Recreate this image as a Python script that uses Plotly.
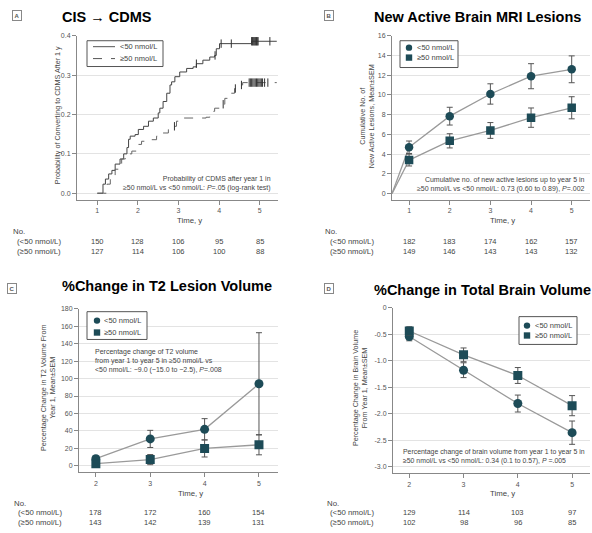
import numpy as np
import plotly.graph_objects as go

# ---------------- DATA ----------------
# Panel A: Kaplan-Meier cumulative probability of CDMS (step times / values)
km_lt50_t = [1.00, 1.14, 1.20, 1.28, 1.36, 1.44, 1.56, 1.65, 1.73, 1.77, 1.81, 1.93, 2.01, 2.14, 2.26,
             2.38, 2.50, 2.54, 2.62, 2.71, 2.79, 2.83, 2.91, 3.03, 3.20, 3.36, 3.44, 3.60, 3.77,
             3.89, 3.93, 4.01, 4.80]
km_lt50_p = [0.000, 0.023, 0.036, 0.049, 0.058, 0.074, 0.087, 0.100, 0.116, 0.137, 0.145, 0.149, 0.162,
             0.170, 0.183, 0.191, 0.204, 0.216, 0.233, 0.254, 0.275, 0.283, 0.296, 0.308, 0.317, 0.321,
             0.329, 0.338, 0.346, 0.350, 0.367, 0.380, 0.386]
km_ge50_t = [1.00, 1.16, 1.24, 1.32, 1.44, 1.52, 1.60, 1.69, 1.85, 1.97, 2.09, 2.30, 2.46, 2.58, 2.75,
             2.87, 2.95, 3.03, 3.68, 3.77, 3.89, 4.01, 4.14, 4.26, 4.38, 4.50, 4.58]
km_ge50_p = [0.000, 0.000, 0.023, 0.044, 0.061, 0.074, 0.087, 0.100, 0.107, 0.124, 0.132, 0.136, 0.145,
             0.153, 0.162, 0.170, 0.183, 0.191, 0.193, 0.208, 0.216, 0.226, 0.241, 0.254, 0.266, 0.275, 0.281]
km_end_time = 5.42
cens_lt50_t = [3.44, 3.90, 4.05, 4.30, 4.80, 4.82, 4.84, 4.86, 4.88, 4.90, 4.92, 4.94, 4.96, 5.25]
cens_ge50_t = [2.90, 4.10, 4.40, 4.55, 4.74, 4.77, 4.80, 4.83, 4.86, 4.89, 4.92, 4.95, 4.98, 5.01, 5.04, 5.07, 5.12, 5.20]
years_A = [1, 2, 3, 4, 5]
A_tickvals = [0, 0.1, 0.2, 0.3, 0.4]
A_ticktext = ["0.0", "0.1", "0.2", "0.3", "0.4"]
atrisk_A_lt50 = [150, 128, 106, 95, 85]
atrisk_A_ge50 = [127, 114, 106, 100, 88]

# Panel B: cumulative new active lesions (mean, SEM)
years_B = [1, 2, 3, 4, 5]
B_start_value = 0
B_lt50_mean = [4.7, 7.85, 10.1, 11.9, 12.6]
B_lt50_sem = [0.63, 0.90, 1.03, 1.27, 1.36]
B_ge50_mean = [3.4, 5.35, 6.4, 7.7, 8.7]
B_ge50_sem = [0.60, 0.72, 0.80, 0.98, 1.12]
atrisk_B_lt50 = [182, 183, 174, 162, 157]
atrisk_B_ge50 = [149, 146, 143, 143, 132]

# Panel C: % change in T2 lesion volume (mean, SEM)
years_CD = [2, 3, 4, 5]
C_lt50_mean = [8.3, 30.9, 41.9, 94.0]
C_lt50_sem = [3.0, 9.8, 12.2, 58.5]
C_ge50_mean = [2.6, 7.2, 20.0, 24.2]
C_ge50_sem = [3.0, 5.8, 9.8, 11.5]
atrisk_C_lt50 = [178, 172, 160, 154]
atrisk_C_ge50 = [143, 142, 139, 131]

# Panel D: % change in total brain volume (mean, SEM)
D_lt50_mean = [-0.545, -1.18, -1.81, -2.36]
D_lt50_sem = [0.08, 0.14, 0.16, 0.22]
D_ge50_mean = [-0.44, -0.89, -1.28, -1.85]
D_ge50_sem = [0.08, 0.13, 0.15, 0.19]
atrisk_D_lt50 = [129, 114, 103, 97]
atrisk_D_ge50 = [102, 98, 96, 85]
D_tickvals = [0, -0.5, -1.0, -1.5, -2.0, -2.5, -3.0]
D_ticktext = ["0", "-0.5", "-1.0", "-1.5", "-2.0", "-2.5", "-3.0"]

series_names = ["&lt;50 nmol/L", "≥50 nmol/L"]

# ---------------- STYLE ----------------
W, H = 592, 533
FONT = "Liberation Sans, Arial, sans-serif"
TEAL = "#1d4b57"
LINE_GRAY = "#9a9a9a"
TXT = "#444444"


def px(x):
    return x / W


def py(y):
    return 1 - y / H


fig = go.Figure()

# ---------- Panel A ----------
def km_xy(t, p):
    return list(t) + [km_end_time], list(p) + [p[-1]]


def step_at(t, p, c):
    idx = np.searchsorted(np.array(t), np.array(c), side="right") - 1
    return [p[i] for i in idx]


xa, ya = km_xy(km_lt50_t, km_lt50_p)
fig.add_trace(go.Scatter(x=xa, y=ya, mode="lines", line=dict(color="#444444", width=1, shape="hv"),
                         name=series_names[0], showlegend=False, xaxis="x", yaxis="y"))
xb, yb = km_xy(km_ge50_t, km_ge50_p)
fig.add_trace(go.Scatter(x=xb, y=yb, mode="lines", line=dict(color="#666666", width=1, shape="hv", dash="dash"),
                         name=series_names[1], showlegend=False, xaxis="x", yaxis="y"))
fig.add_trace(go.Scatter(x=cens_lt50_t, y=step_at(km_lt50_t, km_lt50_p, cens_lt50_t), mode="markers",
                         marker=dict(symbol="line-ns", size=6, line=dict(color="#333333", width=1)),
                         showlegend=False, xaxis="x", yaxis="y"))
fig.add_trace(go.Scatter(x=cens_ge50_t, y=step_at(km_ge50_t, km_ge50_p, cens_ge50_t), mode="markers",
                         marker=dict(symbol="line-ns", size=6, line=dict(color="#333333", width=1)),
                         showlegend=False, xaxis="x", yaxis="y"))


def mean_panel(xax, yax, years, m1, s1, m2, s2, msize):
    for m, s, sym, name in [(m1, s1, "circle", series_names[0]), (m2, s2, "square", series_names[1])]:
        fig.add_trace(go.Scatter(x=years, y=m, mode="lines+markers", name=name,
                                 line=dict(color=LINE_GRAY, width=1.3),
                                 marker=dict(symbol=sym, size=msize, color=TEAL),
                                 error_y=dict(type="data", array=s, visible=True, color="#555555",
                                              thickness=1, width=3),
                                 showlegend=False, xaxis=xax, yaxis=yax))


# ---------- Panel B ----------
B_x0 = 0.58
for m in (B_lt50_mean, B_ge50_mean):
    fig.add_trace(go.Scatter(x=[B_x0, years_B[0]], y=[B_start_value, m[0]], mode="lines",
                             line=dict(color=LINE_GRAY, width=1.3), showlegend=False,
                             xaxis="x2", yaxis="y2"))
mean_panel("x2", "y2", years_B, B_lt50_mean, B_lt50_sem, B_ge50_mean, B_ge50_sem, 8.5)
mean_panel("x3", "y3", years_CD, C_lt50_mean, C_lt50_sem, C_ge50_mean, C_ge50_sem, 9)
mean_panel("x4", "y4", years_CD, D_lt50_mean, D_lt50_sem, D_ge50_mean, D_ge50_sem, 9)

# ---------------- AXES ----------------
tickfont = dict(family=FONT, size=7, color="#555555")


def xax(domain, rng, tickvals, anchor):
    return dict(domain=domain, range=rng, tickvals=tickvals, ticks="outside", ticklen=4,
                tickcolor="#888888", showline=True, linecolor="#888888", linewidth=1,
                showgrid=False, zeroline=False, tickfont=tickfont, anchor=anchor, fixedrange=True)


def yax(domain, rng, tickvals, anchor, ticktext=None):
    d = dict(domain=domain, range=rng, tickvals=tickvals, ticks="outside", ticklen=4,
             tickcolor="#888888", showline=True, linecolor="#888888", linewidth=1,
             showgrid=True, gridcolor="#e3e3e3", gridwidth=1, zeroline=False,
             tickfont=tickfont, anchor=anchor, fixedrange=True)
    if ticktext is not None:
        d["ticktext"] = ticktext
    return d


fig.update_layout(
    width=W, height=H, margin=dict(l=0, r=0, t=0, b=0),
    paper_bgcolor="white", plot_bgcolor="white", showlegend=False,
    xaxis=xax([px(77), px(278)], [0.5, 5.45], years_A, "y"),
    yaxis=yax([py(197), py(32)], [-0.016, 0.4], A_tickvals, "x", A_ticktext),
    xaxis2=xax([px(392), px(590)], [B_x0, 5.45], years_B, "y2"),
    yaxis2=yax([py(197), py(32)], [-0.6, 16], list(range(0, 17, 2)), "x2"),
    xaxis3=xax([px(79), px(278)], [1.69, 5.35], years_CD, "y3"),
    yaxis3=yax([py(472), py(307)], [-7.5, 180], list(range(0, 181, 20)), "x3"),
    xaxis4=xax([px(393), px(590)], [1.70, 5.33], years_CD, "y4"),
    yaxis4=yax([py(473), py(306)], [-3.13, 0], D_tickvals, "x4", D_ticktext),
)

# ---------------- TEXT ----------------
ann = []
shapes = []


def text(x, y, s, size=7, xanchor="center", align="center", color=TXT, angle=0, **kw):
    ann.append(dict(x=px(x), y=py(y), xref="paper", yref="paper", text=s, showarrow=False,
                    xanchor=xanchor, yanchor="middle", align=align, textangle=angle,
                    font=dict(family=FONT, size=size, color=color), **kw))


# titles
text(60, 13, "<b>CIS → CDMS</b>", size=14.5, xanchor="left", color="black")
text(372, 13, "<b>New Active Brain MRI Lesions</b>", size=14.5, xanchor="left", color="black")
text(60, 284, "<b>%Change in T2 Lesion Volume</b>", size=14.5, xanchor="left", color="black")
text(372, 288, "<b>%Change in Total Brain Volume</b>", size=14.5, xanchor="left", color="black")

# panel labels
for lx, ly, lab in [(16.5, 11.5, "A"), (329, 11.5, "B"), (12, 287, "C"), (328.5, 287, "D")]:
    text(lx, ly, "<b>" + lab + "</b>", size=6, color="#555555",
         bordercolor="#888888", borderwidth=1, borderpad=1.5, bgcolor="white")

# y-axis titles
text(57, 112, "Probability of Converting to CDMS After 1 y", size=7.2, angle=-90)
text(367, 113, "Cumulative No. of<br>New Active Lesions, Mean±SEM", size=7.2, angle=-90)
text(48, 387, "Percentage Change in T2 Volume From<br>Year 1, Mean±SEM", size=7.2, angle=-90)
text(360, 387, "Percentage Change in Brain Volume<br>From Year 1, Mean±SEM", size=7.2, angle=-90)

# x-axis titles
for tx, ty in [(189, 218), (502, 218), (190, 493), (502, 493)]:
    text(tx, ty, "Time, y", size=7.8)

# in-plot notes
text(273, 180.5, "Probability of CDMS after year 1 in<br>≥50 nmol/L vs &lt;50 nmol/L: <i>P</i>=.05 (log-rank test)",
     xanchor="right", align="right")
text(587, 181.5, "Cumulative no. of new active lesions up to year 5 in<br>≥50 nmol/L vs &lt;50 nmol/L: 0.73 (0.60 to 0.89), <i>P</i>=.002",
     xanchor="right", align="right")
text(93, 359.5, "Percentage change of T2 volume<br>from year 1 to year 5 in ≥50 nmol/L vs<br>&lt;50 nmol/L: −9.0 (−15.0 to −2.5), <i>P</i>=.008",
     xanchor="left", align="left")
text(401, 455.5, "Percentage change of brain volume from year 1 to year 5 in<br>≥50 nmol/L vs &lt;50 nmol/L: 0.34 (0.1 to 0.57), <i>P</i> =.005",
     size=6.9, xanchor="left", align="left")


# ---------- hand-drawn legends (box, glyph, label) ----------
def legend_box(x0, y0, x1, y1):
    shapes.append(dict(type="rect", xref="paper", yref="paper", x0=px(x0), x1=px(x1), y0=py(y1), y1=py(y0),
                       line=dict(color="#555555", width=1), fillcolor="white", layer="above"))


def legend_line(x0, x1, y, dash):
    shapes.append(dict(type="line", xref="paper", yref="paper", x0=px(x0), x1=px(x1), y0=py(y), y1=py(y),
                       line=dict(color="#555555", width=1, dash=dash), layer="above"))


def legend_marker(cx, cy, kind, r=3.2):
    shapes.append(dict(type="circle" if kind == "circle" else "rect", xref="paper", yref="paper",
                       x0=px(cx - r), x1=px(cx + r), y0=py(cy + r), y1=py(cy - r),
                       line=dict(width=0), fillcolor=TEAL, layer="above"))


legend_box(87, 37, 163, 63)
legend_line(93, 115, 43, "solid")
legend_line(93, 115, 55, "dash")
text(118, 43, series_names[0], size=7.5, xanchor="left")
text(118, 55, series_names[1], size=7.5, xanchor="left")

for (bx0, by0, bx1, by1, mx, tx, r1, r2) in [(400, 37, 458, 64, 409, 415, 44, 54),
                                            (87, 310, 147, 338, 97, 102, 319, 331),
                                            (519, 315, 577, 343, 527, 533, 324, 334)]:
    legend_box(bx0, by0, bx1, by1)
    legend_marker(mx, r1, "circle")
    legend_marker(mx, r2, "square")
    text(tx, r1, series_names[0], size=7.5, xanchor="left")
    text(tx, r2, series_names[1], size=7.5, xanchor="left")


# at-risk tables
def atrisk(xref, years, r1, r2, no_x, lab_x, y0):
    text(no_x, y0, "No.", size=7.8, xanchor="left")
    text(lab_x, y0 + 9.5, "(" + series_names[0] + ")", size=7.8, xanchor="left")
    text(lab_x, y0 + 19.5, "(" + series_names[1] + ")", size=7.8, xanchor="left")
    for yr, a, b in zip(years, r1, r2):
        for val, yy in ((a, y0 + 9.5), (b, y0 + 19.5)):
            ann.append(dict(x=yr, y=py(yy), xref=xref, yref="paper", text=str(val), showarrow=False,
                            xanchor="center", yanchor="middle",
                            font=dict(family=FONT, size=7.5, color=TXT)))


atrisk("x", years_A, atrisk_A_lt50, atrisk_A_ge50, 11, 15, 229.5)
atrisk("x2", years_B, atrisk_B_lt50, atrisk_B_ge50, 323, 328, 229.5)
atrisk("x3", years_CD, atrisk_C_lt50, atrisk_C_ge50, 12, 16, 503)
atrisk("x4", years_CD, atrisk_D_lt50, atrisk_D_ge50, 325, 328, 503)

fig.update_layout(annotations=ann, shapes=shapes)
fig.write_html("out.html", config={"displayModeBar": False},
               post_script="document.body.style.margin='0';")
